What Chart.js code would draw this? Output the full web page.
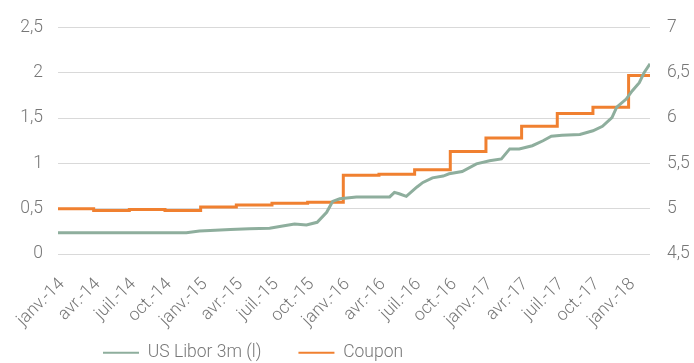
<!DOCTYPE html>
<html>
<head>
<meta charset="utf-8">
<script src="https://cdn.jsdelivr.net/npm/chart.js@4"></script>
<style>
  html, body { margin: 0; padding: 0; background: #fff; }
  #wrap { width: 694px; height: 363px; }
</style>
</head>
<body>
<div id="wrap"><canvas id="chart" width="694" height="363"></canvas></div>
<script>
// x values are months since janv. 2014
const tickLabels = ['janv.-14', 'avr.-14', 'juil.-14', 'oct.-14',
  'janv.-15', 'avr.-15', 'juil.-15', 'oct.-15',
  'janv.-16', 'avr.-16', 'juil.-16', 'oct.-16',
  'janv.-17', 'avr.-17', 'juil.-17', 'oct.-17', 'janv.-18'];

const liborMonths = [0, 10.8, 11.9, 12.8, 14.5, 16.1, 17.8, 18.9, 19.9, 20.9, 21.8, 22.6, 23.1, 23.7,
  25.1, 26.5, 27.9, 28.3, 28.7, 29.3, 30.2, 30.7, 31.5, 32.4, 32.9, 34.0, 35.2, 36.3, 37.3, 38.0,
  38.8, 39.9, 40.8, 41.5, 42.4, 43.9, 45.0, 45.8, 46.6, 47.0, 47.8, 48.3, 48.9, 49.3, 49.8];
const liborValues = [0.235, 0.235, 0.255, 0.26, 0.27, 0.28, 0.285, 0.31, 0.33, 0.32, 0.35, 0.46, 0.58, 0.61,
  0.63, 0.63, 0.63, 0.68, 0.665, 0.636, 0.74, 0.79, 0.84, 0.86, 0.885, 0.91, 0.995, 1.03, 1.05, 1.16,
  1.16, 1.195, 1.25, 1.30, 1.31, 1.32, 1.36, 1.41, 1.505, 1.62, 1.71, 1.80, 1.89, 2.0, 2.10];

const couponMonths = [0, 3, 6, 9, 12, 15, 18, 21, 24, 27, 30, 33, 36, 39, 42, 45, 48, 49.8];
const couponValues = [5.00, 4.98, 4.99, 4.98, 5.02, 5.04, 5.06, 5.07, 5.37, 5.38, 5.43, 5.63,
  5.78, 5.91, 6.05, 6.12, 6.47, 6.47];

const textColor = '#777777';
const font = { family: 'Roboto, "Liberation Sans", sans-serif', size: 17.5, weight: 300 };

const toPoints = (xs, ys) => xs.map((x, i) => ({ x: x, y: ys[i] }));
const comma = v => String(v).replace('.', ',');

// legend sits left of centre and close under the tick labels in the original
const legendShift = {
  id: 'legendShift',
  afterLayout(chart) {
    chart.legend.left = 66;
    chart.legend.top = 307;
  }
};

new Chart(document.getElementById('chart'), {
  type: 'line',
  data: {
    datasets: [{
      label: 'US Libor 3m (l)',
      data: toPoints(liborMonths, liborValues),
      borderColor: '#8eae9d',
      backgroundColor: '#8eae9d',
      borderWidth: 3,
      pointRadius: 0,
      tension: 0,
      yAxisID: 'y'
    }, {
      label: 'Coupon',
      data: toPoints(couponMonths, couponValues),
      borderColor: '#f08030',
      backgroundColor: '#f08030',
      borderWidth: 3,
      pointRadius: 0,
      stepped: true,
      yAxisID: 'y2'
    }]
  },
  plugins: [legendShift],
  options: {
    responsive: false,
    animation: false,
    layout: { padding: { top: 26, left: 0, right: 0, bottom: -40.5 } },
    plugins: {
      tooltip: { enabled: false },
      legend: {
        position: 'bottom',
        align: 'start',
        labels: {
          usePointStyle: true,
          pointStyle: 'line',
          pointStyleWidth: 36,
          padding: 37,
          color: textColor,
          font: font,
          generateLabels: chart => {
            const items = Chart.defaults.plugins.legend.labels.generateLabels(chart);
            items.forEach(it => { it.lineWidth = 2; });
            return items;
          }
        }
      }
    },
    scales: {
      x: {
        type: 'linear',
        min: 0,
        max: 49.8,
        grid: { display: false, drawTicks: false },
        border: { display: false },
        afterFit: s => { s.height = 85; s.paddingLeft = 0; s.paddingRight = 0; },
        ticks: {
          stepSize: 3,
          includeBounds: false,
          autoSkip: false,
          minRotation: 45,
          maxRotation: 45,
          padding: 20,
          labelOffset: 4,
          color: textColor,
          font: font,
          callback: v => tickLabels[v / 3]
        }
      },
      y: {
        position: 'left',
        min: 0,
        max: 2.5,
        grid: { color: '#d9d9d9', lineWidth: 1, drawTicks: false },
        border: { display: false },
        afterFit: s => { s.width = 58; },
        ticks: { stepSize: 0.5, padding: 15, color: textColor, font: font, callback: comma }
      },
      y2: {
        position: 'right',
        min: 4.5,
        max: 7,
        grid: { display: false, drawTicks: false },
        border: { display: false },
        afterFit: s => { s.width = 44; },
        ticks: { stepSize: 0.5, padding: 17, color: textColor, font: font, callback: comma }
      }
    }
  }
});
</script>
</body>
</html>
